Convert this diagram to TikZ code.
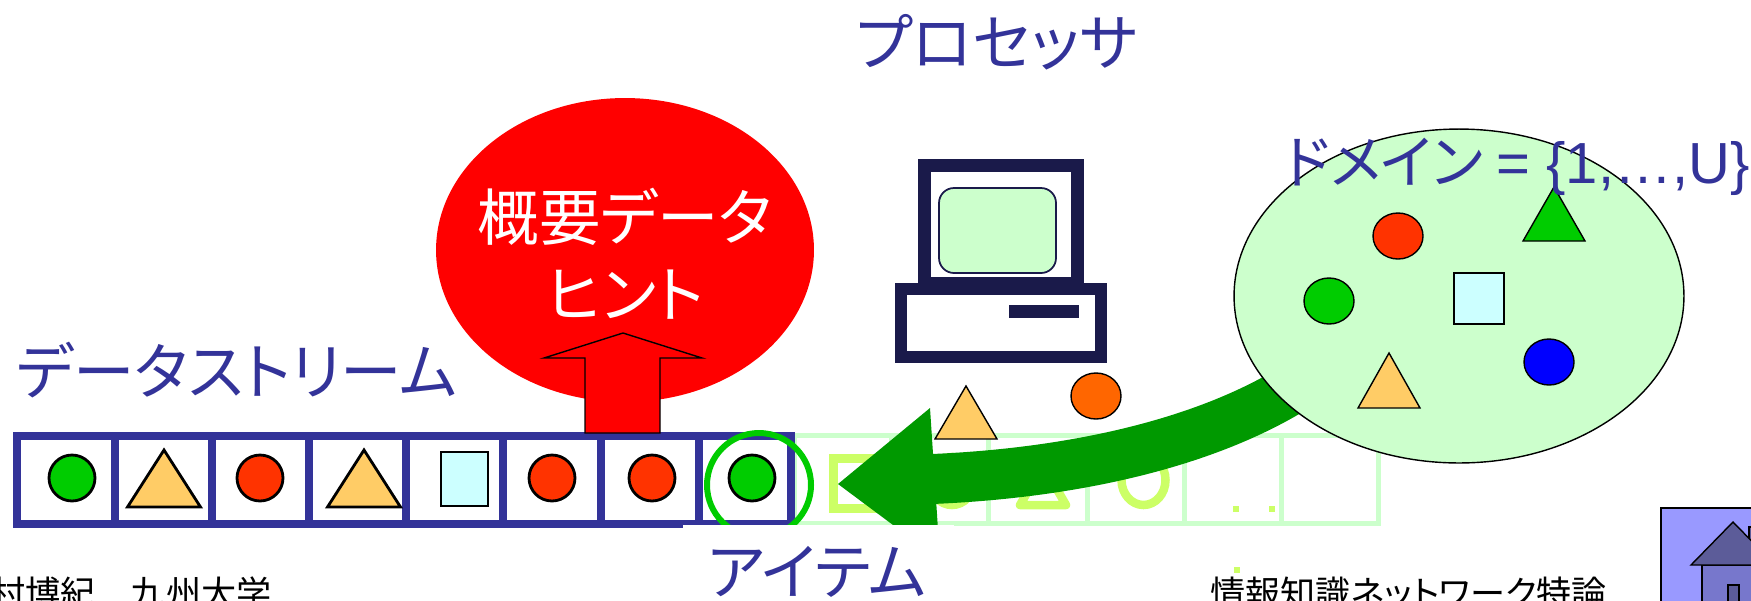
\documentclass[tikz,border=0pt]{standalone}
\usepackage{fontspec}
\setmainfont{Noto Sans CJK JP}[RawFeature=+palt]
\newfontfamily\latinfont{Liberation Sans}
\usetikzlibrary{shapes.geometric}

\definecolor{labelblue}{HTML}{333399}
\definecolor{summaryred}{HTML}{FF0000}
\definecolor{itemgreen}{HTML}{00CC00}
\definecolor{itemred}{HTML}{FF3300}
\definecolor{itemorange}{HTML}{FFCC66}
\definecolor{itemcyan}{HTML}{CCFFFF}
\definecolor{itemblue}{HTML}{0000FF}
\definecolor{ballorange}{HTML}{FF6600}
\definecolor{palegreen}{HTML}{CCFFCC}
\definecolor{limegreen}{HTML}{CCFF66}
\definecolor{arrowgreen}{HTML}{009900}
\definecolor{pcnavy}{HTML}{1A1A4A}
\definecolor{homebg}{HTML}{9999FF}
\definecolor{homeroof}{HTML}{5C5C99}
\definecolor{homewall}{HTML}{7777CC}

% triangle: style, centre x, centre y, width, height
\newcommand{\tri}[5]{\filldraw[#1] ({#2-#4/2},{#3+#5/2}) -- (#2,{#3-#5/2}) -- ({#2+#4/2},{#3+#5/2}) -- cycle;}

\begin{document}
\begin{tikzpicture}[x=0.02cm, y=-0.02cm,
    lbl/.style={text=labelblue, inner sep=0pt, font=\fontsize{35}{42}\selectfont},
    small/.style={inner sep=0pt, font=\fontsize{20}{24}\selectfont},
    streamline/.style={draw=labelblue, line width=0.16cm},
    fadeline/.style={draw=palegreen, line width=0.1cm},
    limeline/.style={draw=limegreen, line width=0.17cm},
    dot/.style={circle, draw=black, line width=1.6pt, minimum size=0.92cm, inner sep=0pt},
    ball/.style={ellipse, draw=black, line width=0.8pt, minimum width=1cm, minimum height=0.92cm, inner sep=0pt},
    pcline/.style={draw=pcnavy, line width=0.25cm},
    thin/.style={draw=black, line width=0.8pt},
  ]
  \useasboundingbox (0,0) rectangle (1751,600);

  % unread part of the stream
  \draw[fadeline] (794,435.5) rectangle (1378,523.5);
  \foreach \x in {891,988,1087,1184,1281}
    \draw[fadeline] (\x,435.5) -- (\x,523.5);
  \draw[limegreen, line width=0.18cm] (833.5,458.5) rectangle (882.5,508.5);
  \draw[limeline] (952,481) ellipse (22 and 24);
  \draw[limeline, line join=round] (1020,505) -- (1043,465) -- (1066,505) -- cycle;
  \draw[limeline] (1143.5,480) ellipse (22 and 25);
  \foreach \x/\y in {1236/509, 1272/509, 1237/570}
    \fill[limegreen] (\x-3,\y-3) rectangle (\x+3,\y+3);

  % data stream
  \draw[streamline] (17,436) rectangle (791,524);
  \foreach \x in {114.5,211.5,308.5,405.5,502.5,600.5,699}
    \draw[streamline] (\x,436) -- (\x,524);
  \node[dot, fill=itemgreen] (s1) at (72,478) {};
  \tri{fill=itemorange, draw=black, line width=1.6pt}{164}{478.5}{73}{57}
  \node[dot, fill=itemred] (s3) at (260,478) {};
  \tri{fill=itemorange, draw=black, line width=1.6pt}{364}{478.5}{73}{57}
  \node[rectangle, draw=black, line width=1.6pt, fill=itemcyan, minimum width=0.94cm,
    minimum height=1.08cm, inner sep=0pt] (s5) at (464.5,479) {};
  \node[dot, fill=itemred] (s6) at (552,478) {};
  \node[dot, fill=itemred] (s7) at (652,478) {};
  \node[dot, fill=itemgreen] (s8) at (752,478) {};
  \draw[itemgreen, line width=0.12cm] (759,485) circle (52);

  % summary and the arrow feeding it
  \node[ellipse, fill=summaryred, minimum width=7.56cm, minimum height=6.08cm, inner sep=0pt]
    (summary) at (625,250) {};
  \node[text=white, align=center, inner sep=0pt, font=\fontsize{35}{44}\selectfont]
    (summarytxt) at (625,254) {概要データ\\ヒント};
  \filldraw[fill=summaryred, thin] (585,433) -- (585,358) -- (544,358) -- (623,333)
    -- (702,358) -- (660,358) -- (660,433) -- cycle;

  % processor
  \draw[pcline, fill=white] (924.5,165.5) rectangle (1077.5,283);
  \draw[pcnavy, line width=1pt, fill=palegreen, rounded corners=0.3cm] (939,188) rectangle (1056,273);
  \draw[pcline, line width=0.24cm, fill=white] (901,289) rectangle (1101,357);
  \fill[pcnavy] (1009,305) rectangle (1079,318);
  \tri{fill=itemorange, thin}{966}{412.5}{62}{53}
  \node[ball, minimum height=0.92cm, fill=ballorange] (b1) at (1096,396) {};

  % domain, picking an item into the stream
  \coordinate (pick) at (1365,330);
  \coordinate (land) at (932,479);
  \draw[arrowgreen, line width=1cm] (pick) .. controls (1275,430) and (1100,472) .. (land);
  \fill[arrowgreen] (838,484) -- (930,408) -- (940,560) -- cycle;
  \node[ellipse, fill=palegreen, thin, minimum width=9cm, minimum height=6.68cm] (domain) at (1459,296) {};
  \node[ball, fill=itemred] (d1) at (1398,236) {};
  \tri{fill=itemgreen, thin}{1554}{214}{62}{54}
  \node[ball, fill=itemgreen] (d2) at (1329,301) {};
  \node[rectangle, thin, fill=itemcyan, minimum width=1cm, minimum height=1.02cm,
    inner sep=0pt] (d3) at (1479,298.5) {};
  \node[ball, fill=itemblue] (d4) at (1549,362) {};
  \tri{fill=itemorange, thin}{1389}{380.5}{62}{55}

  % item label box
  \fill[white] (683,525) rectangle (954,610);

  % labels
  \node[lbl] (proclbl) at (997,42) {プロセッサ};
  \node[lbl] (streamlbl) at (237,370) {データストリーム};
  \node[lbl] (itemlbl) at (817,572) {アイテム};
  \node[lbl, font=\fontsize{33}{38}\selectfont] (domainlbl) at (1517,167)
    {ドメイン {\latinfont = \{1,…,U\}}};
  \node[small, anchor=west] (author) at (-10,593) {村博紀　九州大学};
  \node[small, anchor=west] (course) at (1210,593) {情報知識ネットワーク特論};

  % home button
  \draw[thin, fill=homebg] (1661,508) rectangle (1770,620);
  \draw[thin, fill=homeroof] (1749,527) rectangle (1760,550);
  \draw[thin, fill=homewall] (1702,565) rectangle (1764,620);
  \draw[thin, fill=homeroof] (1691,565) -- (1733,522) -- (1775,565) -- cycle;
  \draw[thin, fill=homeroof] (1728,585) rectangle (1739,620);
\end{tikzpicture}
\end{document}
